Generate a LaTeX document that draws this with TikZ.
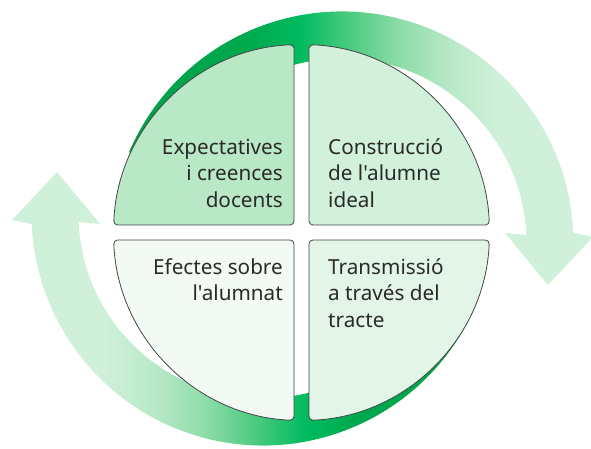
\documentclass[tikz,border=0pt]{standalone}
\usepackage{fontspec}
\setmainfont{Noto Sans}[Ligatures=TeXOff]
\usetikzlibrary{calc}
\definecolor{qTL}{HTML}{B9E8C7}
\definecolor{qTR}{HTML}{D2F1DA}
\definecolor{qBL}{HTML}{F3FAF4}
\definecolor{qBR}{HTML}{E3F5E7}
\definecolor{qline}{HTML}{454545}
\definecolor{txt}{HTML}{2A2A2A}
\definecolor{gA}{HTML}{00A048}
\definecolor{gB}{HTML}{00A94E}
\definecolor{gC}{HTML}{00BB5F}
\definecolor{gD}{HTML}{4CCB80}
\definecolor{gE}{HTML}{8EDCA8}
\definecolor{gF}{HTML}{B8E9C8}
\definecolor{gG}{HTML}{CFF0D9}
\pgfdeclarehorizontalshading{upshade}{100bp}{color(0bp)=(gA); color(25bp)=(gA); color(38.16bp)=(gB); color(43.42bp)=(gC); color(48.68bp)=(gD); color(53.95bp)=(gE); color(59.21bp)=(gF); color(64.47bp)=(gG); color(100bp)=(gG)}
\pgfdeclarehorizontalshading{loshade}{100bp}{color(0bp)=(gG); color(35.53bp)=(gG); color(40.79bp)=(gF); color(46.05bp)=(gE); color(51.32bp)=(gD); color(56.58bp)=(gC); color(61.84bp)=(gB); color(75bp)=(gA); color(100bp)=(gA)}
\tikzset{
  quad/.style={draw=qline, line width=0.8pt, rounded corners=4pt},
  qtext/.style={inner sep=0pt, text=txt, font=\fontsize{20.7}{26.5}\selectfont},
}
\begin{document}
\begin{tikzpicture}[x=1pt,y=1pt]
\useasboundingbox (0,0) rectangle (591,449);
\coordinate (uc) at (342,206);
\coordinate (lc) at (263,235);
% upper circular arrow
\begin{scope}
\clip ($(uc)+(157:231.5pt)$) arc[start angle=157, end angle=2.5, radius=231.5pt]
  -- (593,212) -- (548,164) -- (505,216) -- ($(uc)+(2.5:184.5pt)$)
  arc[start angle=2.5, end angle=150, radius=184.5pt] -- cycle;
\shade[shading=upshade] (125,0) rectangle (600,449);
\end{scope}
% lower circular arrow
\begin{scope}
\clip ($(lc)+(337:231.5pt)$) arc[start angle=337, end angle=182.5, radius=231.5pt]
  -- (12,229) -- (57,277) -- (100,225) -- ($(lc)+(182.5:184.5pt)$)
  arc[start angle=182.5, end angle=330, radius=184.5pt] -- cycle;
\shade[shading=loshade] (5,0) rectangle (480,449);
\end{scope}
% quadrants
\draw[quad, fill=qTL] (294,224) -- (294,404.35) arc[start angle=92.29, end angle=177.71, radius=188pt] -- cycle;
\draw[quad, fill=qTR] (309,224) -- (489.35,224) arc[start angle=2.29, end angle=87.71, radius=188pt] -- cycle;
\draw[quad, fill=qBL] (294,209) -- (113.65,209) arc[start angle=182.29, end angle=267.71, radius=188pt] -- cycle;
\draw[quad, fill=qBR] (309,209) -- (309,28.65) arc[start angle=272.29, end angle=357.71, radius=188pt] -- cycle;
% texts
\node[qtext, align=right, anchor=north east] (tTL) at (283,313.5) {\strut Expectatives\\\strut i creences\\\strut docents};
\node[qtext, align=left, anchor=north west] (tTR) at (328,313.5) {\strut Construcció\\\strut de l'alumne\\\strut ideal};
\node[qtext, align=right, anchor=north east] (tBL) at (283,193.5) {\strut Efectes sobre\\\strut l'alumnat};
\node[qtext, align=left, anchor=north west] (tBR) at (328,193.5) {\strut Transmissió\\\strut a través del\\\strut tracte};
\end{tikzpicture}
\end{document}
